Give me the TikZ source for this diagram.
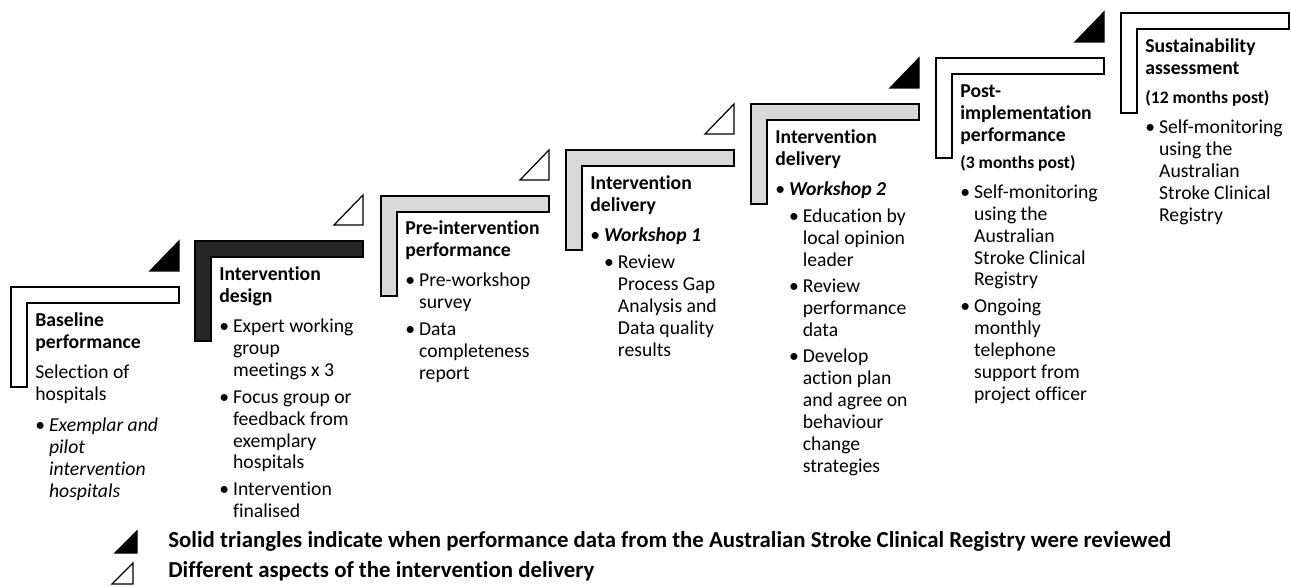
\documentclass[tikz,border=0pt]{standalone}
\usepackage{fontspec}
\setmainfont{Carlito}[Ligatures=NoCommon]
\usepackage{tikz}
\definecolor{framedark}{HTML}{262626}
\definecolor{framegrey}{HTML}{D9D9D9}
\tikzset{
	phase/.style={
		anchor = base west,
		inner sep = 0pt,
		text width = 3.6cm,
		align = flush left,
		font = \fontsize{11.2}{12.5}\selectfont
	},
	legend/.style={
		anchor = base west,
		inner sep = 0pt,
		font = \fontsize{13}{15}\selectfont\bfseries
	},
	frameline/.style={
		draw,
		line width = 0.7pt
	},
}
\newcommand{\bul}{\makebox[0.7em][l]{\textbullet}}
\newcommand{\ind}{\hspace*{0.7em}}
\newcommand{\subhead}[1]{{\fontsize{10}{12}\selectfont\bfseries #1}}

\begin{document}
\begin{tikzpicture}[x=0.02cm, y=-0.02cm]
    \useasboundingbox (0,0) rectangle (1291,587);
    \foreach \x/\y/\c in {11/287/white, 195/241/framedark, 381/196/framegrey, 566/150/framegrey, 751/104/framegrey, 936/58/white, 1121/13/white}{
      \draw[frameline, fill=\c] (\x,\y) -- ++(168,0) -- ++(0,16) -- ++(-152,0) -- ++(0,84) -- ++(-16,0) -- cycle;
    }
    \foreach \x/\y/\c in {11/287/black, 195/241/white, 381/196/white, 566/150/white, 751/104/black, 936/58/black}{
      \draw[frameline, fill=\c] (\x+168,\y-16) -- ++(-29,0) -- ++(29,-30) -- cycle;
    }
    \node[phase] (baseline) at (35,327) {\textbf{Baseline}\\\textbf{performance}\\[4.5pt]
      Selection of\\hospitals\\[5pt]
      \bul\textit{Exemplar and}\\\ind\textit{pilot}\\\ind\textit{intervention}\\\ind\textit{hospitals}};
    \node[phase] (design) at (219,281) {\textbf{Intervention}\\\textbf{design}\\[4.5pt]
      \bul Expert working\\\ind group\\\ind meetings x 3\\[2.5pt]
      \bul Focus group or\\\ind feedback from\\\ind exemplary\\\ind hospitals\\[2.5pt]
      \bul Intervention\\\ind finalised};
    \node[phase] (preint) at (405,235) {\textbf{Pre-intervention}\\\textbf{performance}\\[4.5pt]
      \bul Pre-workshop\\\ind survey\\[2.5pt]
      \bul Data\\\ind completeness\\\ind report};
    \node[phase] (workshopA) at (590,190) {\textbf{Intervention}\\\textbf{delivery}\\[4.5pt]
      \bul\textbf{\textit{Workshop 1}}\\[2.5pt]
      \ind\bul Review\\\ind\ind Process Gap\\\ind\ind Analysis and\\\ind\ind Data quality\\\ind\ind results};
    \node[phase] (workshopB) at (775,144) {\textbf{Intervention}\\\textbf{delivery}\\[4.5pt]
      \bul\textbf{\textit{Workshop 2}}\\[2.5pt]
      \ind\bul Education by\\\ind\ind local opinion\\\ind\ind leader\\[2.5pt]
      \ind\bul Review\\\ind\ind performance\\\ind\ind data\\[2.5pt]
      \ind\bul Develop\\\ind\ind action plan\\\ind\ind and agree on\\\ind\ind behaviour\\\ind\ind change\\\ind\ind strategies};
    \node[phase] (postimp) at (960,98) {\textbf{Post-}\\\textbf{implementation}\\\textbf{performance}\\[2.5pt]
      \subhead{(3 months post)}\\[4.5pt]
      \bul Self-monitoring\\\ind using the\\\ind Australian\\\ind Stroke Clinical\\\ind Registry\\[2.5pt]
      \bul Ongoing\\\ind monthly\\\ind telephone\\\ind support from\\\ind project officer};
    \node[phase] (sustain) at (1145,53) {\textbf{Sustainability}\\\textbf{assessment}\\[4pt]
      \subhead{(12 months post)}\\[4.5pt]
      \bul Self-monitoring\\\ind using the\\\ind Australian\\\ind Stroke Clinical\\\ind Registry};
    \draw[frameline, fill=black] (115,553) -- (137,553) -- (137,531) -- cycle;
    \draw[frameline, fill=white] (112,584) -- (133,584) -- (133,563) -- cycle;
    \node[legend] (legsolid) at (168,547) {Solid triangles indicate when performance data from the Australian Stroke Clinical Registry were reviewed};
    \node[legend] (legopen) at (168,577) {Different aspects of the intervention delivery};
  \end{tikzpicture}
\end{document}
